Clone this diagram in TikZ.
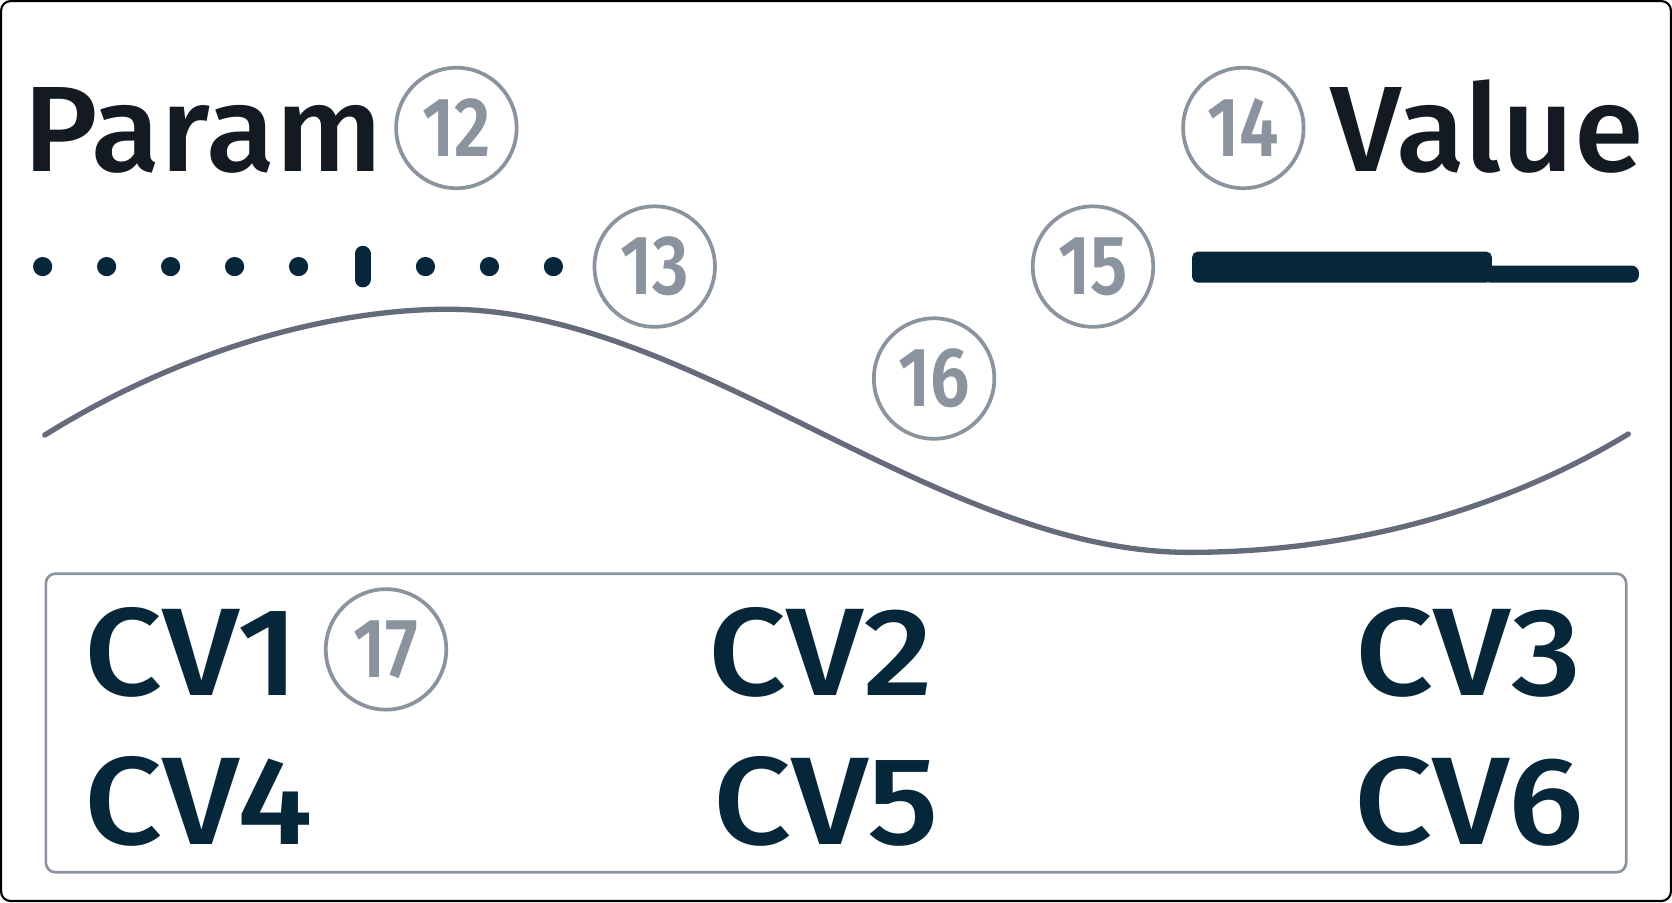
\documentclass[tikz,border=0pt]{standalone}
\usepackage{fontspec}
\setmainfont[BoldFont={Fira Sans SemiBold}]{Fira Sans}
\newfontfamily\medfont[FakeStretch=1.04]{Fira Sans Medium}
\newfontfamily\cvfont[FakeStretch=1.1]{Fira Sans Medium}
\definecolor{ink}{HTML}{131A21}
\definecolor{navy}{HTML}{06263A}
\definecolor{badgec}{HTML}{8A939E}
\definecolor{wavec}{HTML}{666B7C}
\newcommand{\bnum}[1]{\scalebox{0.84}[1]{#1}}
\tikzset{
  badge/.style={circle, draw=badgec, line width=3.5pt, minimum size=113pt, inner sep=0pt,
    text=badgec, font=\bfseries\fontsize{79}{79}\selectfont},
  title/.style={inner sep=0pt, text=ink, font=\medfont\fontsize{114}{114}\selectfont},
  cvlabel/.style={inner sep=0pt, text=navy, font=\cvfont\fontsize{117}{117}\selectfont},
  tick/.style={circle, fill=navy, inner sep=0pt, minimum size=18pt},
}
\begin{document}
\begin{tikzpicture}[x=1pt,y=-1pt]
\useasboundingbox (0,0) rectangle (1568,846);
\draw[line width=2pt, rounded corners=9pt, black] (1,1) rectangle (1567,845);

% titles
\node[title, anchor=base west] (param) at (22,161) {Param};
\node[badge] (b12) at (428,120) {\bnum{12}};
\node[title, anchor=base east] (value) at (1542,161) {Value};
\node[badge] (b14) at (1166,120) {\bnum{14}};

% dotted scale
\foreach \i/\x in {1/40,2/100,3/160,4/220,5/280,7/399,8/459,9/519}
  \node[tick] (d\i) at (\x,250) {};
\draw[navy, line width=15pt, line cap=round] (340,238) -- (340,262);
\node[badge] (b13) at (614,250) {\bnum{13}};

% slider
\node[badge] (b15) at (1025,250) {\bnum{15}};
\fill[navy, rounded corners=5pt] (1118,236) rectangle (1399,265);
\fill[navy, rounded corners=7pt] (1390,249) rectangle (1537,265);

% wave
\draw[wavec, line width=5pt, line cap=round]
  (42,408) .. controls (180,322) and (320,290) .. (420,290)
           .. controls (650,290) and (880,518) .. (1115,518)
           .. controls (1300,518) and (1440,460) .. (1527,407);
\node[badge] (b16) at (876,355) {\bnum{16}};

% CV box
\draw[badgec, line width=2.5pt, rounded corners=9pt] (43,538) rectangle (1525,818);
\node[cvlabel, anchor=base west] (cv1) at (79,652) {CV1};
\node[cvlabel, anchor=base west] (cv2) at (664,652) {CV2};
\node[cvlabel, anchor=base east] (cv3) at (1483,652) {CV3};
\node[cvlabel, anchor=base west] (cv4) at (79,792) {CV4};
\node[cvlabel, anchor=base west] (cv5) at (669,792) {CV5};
\node[cvlabel, anchor=base east] (cv6) at (1486,792) {CV6};
\node[badge] (b17) at (362,609) {\bnum{17}};
\end{tikzpicture}
\end{document}
